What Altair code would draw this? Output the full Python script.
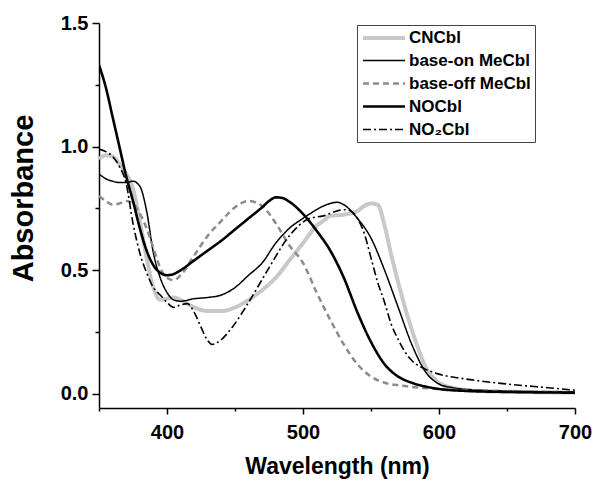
import altair as alt
import pandas as pd

# ---- data ----
series_names = ["CNCbl", "base-on MeCbl", "base-off MeCbl", "NOCbl", "NO₂Cbl"]

cn_wl = [350, 355, 360, 365, 370, 375, 380, 385, 390, 395, 400, 405, 410, 420, 430, 440, 450, 460, 470, 480,
         490, 500, 510, 515, 520, 530, 540, 545, 550, 555, 560, 565, 570, 575, 580, 585, 590, 595, 600, 610,
         620, 640, 660, 700]
cn_ab = [0.95, 0.965, 0.96, 0.93, 0.89, 0.83, 0.70, 0.55, 0.43, 0.38, 0.385, 0.39, 0.38, 0.35, 0.335, 0.335,
         0.35, 0.38, 0.42, 0.47, 0.54, 0.61, 0.68, 0.70, 0.72, 0.725, 0.74, 0.76, 0.77, 0.765, 0.68, 0.56, 0.45,
         0.35, 0.26, 0.18, 0.11, 0.07, 0.045, 0.025, 0.015, 0.01, 0.008, 0.005]

on_wl = [350, 355, 360, 365, 370, 375, 380, 385, 390, 395, 400, 405, 410, 420, 430, 440, 450, 460, 470, 480,
         490, 500, 510, 515, 520, 525, 530, 540, 550, 560, 570, 580, 590, 600, 610, 630, 660, 700]
on_ab = [0.89, 0.87, 0.86, 0.855, 0.855, 0.86, 0.84, 0.74, 0.57, 0.47, 0.41, 0.38, 0.375, 0.385, 0.39, 0.40,
         0.43, 0.48, 0.53, 0.61, 0.67, 0.71, 0.745, 0.76, 0.77, 0.775, 0.765, 0.71, 0.63, 0.50, 0.35, 0.20,
         0.09, 0.04, 0.025, 0.015, 0.01, 0.008]

off_wl = [350, 355, 360, 365, 370, 375, 380, 385, 390, 395, 400, 405, 410, 420, 430, 440, 450, 460, 470, 480,
          490, 500, 510, 520, 530, 540, 550, 560, 570, 580, 600, 630, 660, 700]
off_ab = [0.80, 0.78, 0.765, 0.77, 0.78, 0.77, 0.73, 0.67, 0.59, 0.51, 0.47, 0.46, 0.48, 0.56, 0.64, 0.70,
          0.755, 0.78, 0.76, 0.69, 0.60, 0.53, 0.41, 0.30, 0.20, 0.12, 0.07, 0.045, 0.035, 0.028, 0.02, 0.013,
          0.01, 0.006]

no_wl = [350, 355, 360, 365, 370, 375, 380, 385, 390, 395, 400, 405, 410, 420, 430, 440, 450, 460, 470, 475,
         480, 485, 490, 500, 510, 520, 530, 540, 550, 560, 570, 580, 590, 600, 620, 650, 700]
no_ab = [1.33, 1.24, 1.12, 1.00, 0.88, 0.78, 0.67, 0.58, 0.52, 0.49, 0.48, 0.485, 0.50, 0.54, 0.58, 0.62,
         0.665, 0.71, 0.755, 0.78, 0.795, 0.792, 0.777, 0.728, 0.66, 0.58, 0.47, 0.33, 0.21, 0.12, 0.07, 0.045,
         0.03, 0.02, 0.012, 0.008, 0.005]

no2_wl = [350, 355, 360, 365, 370, 375, 380, 385, 390, 395, 400, 405, 410, 415, 420, 425, 430, 433, 440, 448,
          460, 475, 490, 505, 515, 525, 530, 535, 540, 545, 550, 555, 560, 565, 570, 575, 580, 590, 600, 620,
          650, 680, 700]
no2_ab = [0.99, 0.98, 0.96, 0.92, 0.85, 0.69, 0.57, 0.49, 0.43, 0.40, 0.37, 0.35, 0.36, 0.365, 0.33, 0.27,
          0.215, 0.20, 0.22, 0.27, 0.37, 0.51, 0.64, 0.71, 0.72, 0.74, 0.745, 0.74, 0.71, 0.65, 0.55, 0.45,
          0.37, 0.28, 0.22, 0.17, 0.135, 0.10, 0.08, 0.06, 0.04, 0.025, 0.015]

x_major = [400, 500, 600, 700]
x_minor = [350, 450, 550, 650]
y_major = [0.0, 0.5, 1.0, 1.5]
y_minor = [0.25, 0.75, 1.25]

# ---- table ----
rows = []
for name, wl, ab in zip(series_names,
                        [cn_wl, on_wl, off_wl, no_wl, no2_wl],
                        [cn_ab, on_ab, off_ab, no_ab, no2_ab]):
    for w, a in zip(wl, ab):
        rows.append({"series": name, "wavelength": w, "absorbance": a})
df = pd.DataFrame(rows)

# ---- styles ----
color_range = ["#c8c8c8", "#000000", "#8c8c8c", "#000000", "#000000"]
width_range = [4, 1.5, 2.5, 2.6, 1.6]
dash_range = [[1, 0], [1, 0], [6, 4], [1, 0], [8, 3, 2, 3]]

FONT = "Liberation Sans"

x_scale = alt.Scale(domain=[350, 700], nice=False, zero=False)
y_scale = alt.Scale(domain=[-0.057, 1.5], nice=False, zero=False)

legend = alt.Legend(
    title=None, orient="none", legendX=258, legendY=2,
    symbolType="M-3,0H3", symbolSize=196, symbolOffset=14,
    labelOffset=16, labelFont=FONT, labelFontSize=17, labelFontWeight="bold", labelColor="#000000",
    padding=4, rowPadding=5, fillColor="#ffffff", strokeColor="#444444",
)

x_axis = alt.Axis(
    orient="bottom", values=x_major, format="d",
    tickSize=6, labelPadding=8, labelFlush=False, labelOverlap=False,
    title="Wavelength (nm)", titleFontSize=23, titleX=238, titleY=65,
    titleAlign="center", titleBaseline="alphabetic",
)
y_axis = alt.Axis(
    orient="left", values=y_major, format=".1f",
    tickSize=7, labelPadding=4, labelOverlap=False,
    title="Absorbance", titleFontSize=29, titleAngle=270, titleX=-76, titleY=175,
    titleAlign="center", titleBaseline="middle",
)
x_axis_minor = alt.Axis(orient="bottom", values=x_minor, tickSize=3, labels=False, domain=False, title=None)
y_axis_minor = alt.Axis(orient="left", values=y_minor, tickSize=4, labels=False, domain=False, title=None)

lines = alt.Chart(df).mark_line(interpolate="monotone", clip=True).encode(
    x=alt.X("wavelength:Q", scale=x_scale, axis=x_axis),
    y=alt.Y("absorbance:Q", scale=y_scale, axis=y_axis),
    color=alt.Color("series:N", scale=alt.Scale(domain=series_names, range=color_range),
                    sort=series_names, legend=legend),
    strokeWidth=alt.StrokeWidth("series:N",
                                scale=alt.Scale(type="ordinal", domain=series_names, range=width_range),
                                sort=series_names, legend=legend),
    strokeDash=alt.StrokeDash("series:N", scale=alt.Scale(domain=series_names, range=dash_range),
                              sort=series_names, legend=legend),
)

minor = alt.Chart(df).mark_line(opacity=0).encode(
    x=alt.X("wavelength:Q", scale=x_scale, axis=x_axis_minor),
    y=alt.Y("absorbance:Q", scale=y_scale, axis=y_axis_minor),
    detail="series:N",
)

chart = alt.layer(lines, minor).resolve_axis(
    x="independent", y="independent"
).properties(
    width=476, height=385, autosize="none",
    padding={"left": 91, "top": 15, "right": 20, "bottom": 72},
).configure_view(
    stroke="transparent", strokeWidth=0
).configure_axis(
    grid=False, domainColor="#000000", domainWidth=1.5, tickColor="#000000", tickWidth=1.5,
    labelFont=FONT, labelFontSize=20, labelFontWeight="bold", labelColor="#000000",
    titleFont=FONT, titleFontWeight="bold", titleColor="#000000",
)

chart.save("out.html", embed_options={"renderer": "svg", "actions": False})
